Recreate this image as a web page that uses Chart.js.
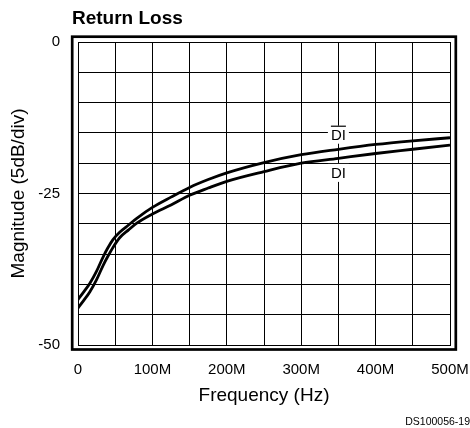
<!DOCTYPE html>
<html>
<head>
<meta charset="utf-8">
<script src="https://cdn.jsdelivr.net/npm/chart.js@4/dist/chart.umd.min.js"></script>
<style>
  html, body { margin: 0; padding: 0; background: #fff; }
  #wrap { width: 470px; height: 428px; }
</style>
</head>
<body>
<div id="wrap"><canvas id="c" width="470" height="428"></canvas></div>
<script>
// ---- data (frequency in MHz, magnitude in dB) ----
const frequencyMHz = [0, 8, 16, 25, 34, 40, 47, 56, 68, 79, 100, 125, 150, 175, 200, 250, 300, 350, 400, 450, 500];
const returnLossDIbar = [-42.5, -41.2, -39.8, -37.8, -35.4, -34.0, -32.6, -31.4, -30.2, -29.1, -27.3, -25.6, -24.0, -22.7, -21.6, -19.9, -18.6, -17.7, -16.9, -16.3, -15.8];
const returnLossDI    = [-43.9, -42.6, -41.2, -39.2, -36.8, -35.4, -33.9, -32.3, -31.0, -29.9, -28.4, -26.9, -25.3, -24.1, -23.0, -21.4, -20.0, -19.2, -18.4, -17.7, -17.0];
const xTickLabels = {0: '0', 100: '100M', 200: '200M', 300: '300M', 400: '400M', 500: '500M'};
const yTickLabels = {0: '0', '-25': '-25', '-50': '-50'};
const curveLabels = [
  { text: 'DI', x: 350, y: -15.3, overline: true },
  { text: 'DI', x: 350, y: -21.6, overline: false }
];

const FONT = '"Liberation Sans", Arial, Helvetica, sans-serif';

const decorPlugin = {
  id: 'decor',
  afterDatasetsDraw(chart) {
    const ctx = chart.ctx;
    const xs = chart.scales.x, ys = chart.scales.y;
    ctx.save();
    ctx.font = '15px ' + FONT;
    ctx.textAlign = 'center';
    ctx.textBaseline = 'middle';
    curveLabels.forEach(l => {
      const px = xs.getPixelForValue(l.x);
      const py = ys.getPixelForValue(l.y);
      const w = ctx.measureText(l.text).width;
      ctx.fillStyle = '#fff';
      ctx.fillRect(px - w / 2 - 3, py - 9, w + 6, 18);
      ctx.fillStyle = '#000';
      ctx.fillText(l.text, px, py + 1);
      if (l.overline) {
        ctx.strokeStyle = '#000';
        ctx.lineWidth = 1.2;
        ctx.beginPath();
        ctx.moveTo(px - w / 2, py - 8.5);
        ctx.lineTo(px + w / 2, py - 8.5);
        ctx.stroke();
      }
    });
    ctx.restore();
  },
  afterDraw(chart) {
    const ctx = chart.ctx;
    const a = chart.chartArea;
    ctx.save();
    // outer heavy frame
    ctx.strokeStyle = '#000';
    ctx.lineWidth = 2.7;
    ctx.strokeRect(a.left - 5.8, a.top - 5.3, (a.right - a.left) + 11.6, (a.bottom - a.top) + 9.8);
    // title
    ctx.fillStyle = '#000';
    ctx.font = 'bold 19px ' + FONT;
    ctx.textAlign = 'left';
    ctx.textBaseline = 'middle';
    ctx.fillText('Return Loss', 72, 19);
    // figure code
    ctx.font = '10.5px ' + FONT;
    ctx.textAlign = 'right';
    ctx.fillText('DS100056-19', 470, 422);
    ctx.restore();
  }
};

new Chart(document.getElementById('c'), {
  type: 'line',
  data: {
    datasets: [
      {
        label: 'DI bar',
        data: frequencyMHz.map((f, i) => ({ x: f, y: returnLossDIbar[i] })),
        borderColor: '#000', borderWidth: 2.8, pointRadius: 0, fill: false,
        cubicInterpolationMode: 'monotone'
      },
      {
        label: 'DI',
        data: frequencyMHz.map((f, i) => ({ x: f, y: returnLossDI[i] })),
        borderColor: '#000', borderWidth: 2.8, pointRadius: 0, fill: false,
        cubicInterpolationMode: 'monotone'
      }
    ]
  },
  options: {
    responsive: false,
    animation: false,
    layout: { padding: { left: 0, top: 42, right: 20, bottom: 0 } },
    plugins: { legend: { display: false }, tooltip: { enabled: false }, title: { display: false } },
    scales: {
      x: {
        type: 'linear', min: 0, max: 500,
        afterFit(s) { s.height = 83; s.paddingLeft = 0; s.paddingRight = 0; },
        ticks: {
          stepSize: 50, autoSkip: false, maxRotation: 0, minRotation: 0,
          color: '#000', font: { family: FONT, size: 15 }, padding: 16,
          callback: v => (xTickLabels[v] !== undefined ? xTickLabels[v] : '')
        },
        grid: { color: '#000', lineWidth: 1, drawTicks: false },
        border: { display: true, color: '#000', width: 1 },
        title: {
          display: true, text: 'Frequency (Hz)', color: '#000',
          font: { family: FONT, size: 19 }, padding: { top: 0, bottom: 21 }
        }
      },
      y: {
        type: 'linear', min: -50, max: 0,
        afterFit(s) { s.width = 78; s.paddingTop = 0; s.paddingBottom = 0; },
        ticks: {
          stepSize: 5, autoSkip: false,
          color: '#000', font: { family: FONT, size: 15 }, padding: 18,
          callback: v => (yTickLabels[String(v)] !== undefined ? yTickLabels[String(v)] : '')
        },
        grid: { color: '#000', lineWidth: 1, drawTicks: false },
        border: { display: true, color: '#000', width: 1 },
        title: {
          display: true, text: 'Magnitude (5dB/div)', color: '#000',
          font: { family: FONT, size: 19 }, padding: { top: 7, bottom: 0 }
        }
      }
    }
  },
  plugins: [decorPlugin]
});
</script>
</body>
</html>
